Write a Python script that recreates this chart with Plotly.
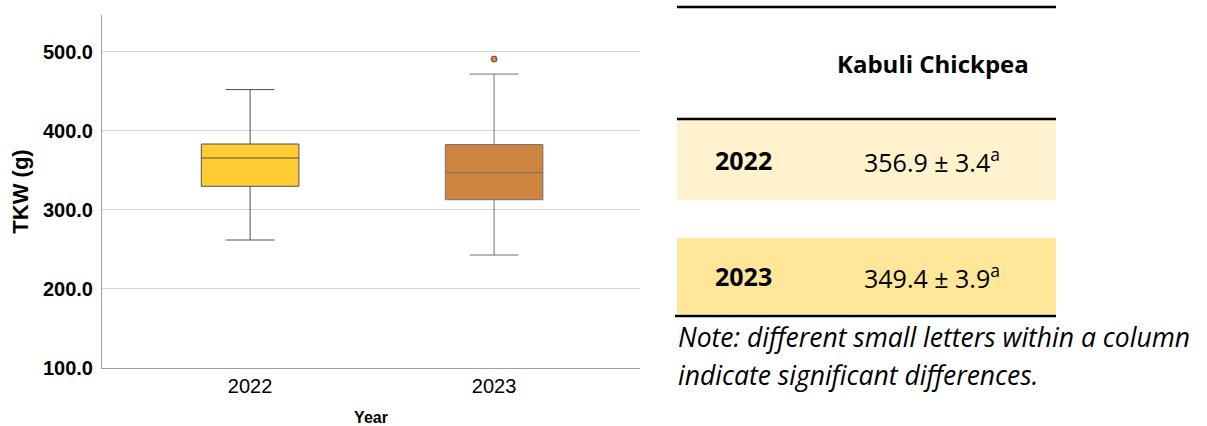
import plotly.graph_objects as go

W, H = 1207, 426

# Box-plot summary statistics of thousand-kernel weight (g) per harvest year
years = ["2022", "2023"]
q1 = [330.0, 313.0]
median = [365.8, 347.3]
q3 = [383.5, 382.8]
lower_whisker = [262.0, 243.0]
upper_whisker = [452.4, 472.0]
outlier_years = ["2023"]
outlier_values = [491.0]

box_fill = ["#FFCC33", "#CD853F"]
box_line = ["#4f4f4f", "#727272"]

# Table: mean ± SE with significance letters
table_title = "Kabuli Chickpea"
table_means = [356.9, 349.4]
table_se = [3.4, 3.9]
table_letters = ["a", "a"]
row_fill = ["#FFF2CC", "#FFE699"]
note_lines = ["Note: different small letters within a column",
              "indicate significant differences."]


def px(x):
    return x / W


def py(y):
    return 1 - y / H


fig = go.Figure()

for i, yr in enumerate(years):
    fig.add_trace(go.Box(
        x=[yr], q1=[q1[i]], median=[median[i]], q3=[q3[i]],
        lowerfence=[lower_whisker[i]], upperfence=[upper_whisker[i]],
        fillcolor=box_fill[i], line=dict(color=box_line[i], width=1),
        width=0.4, whiskerwidth=0.5, boxpoints=False,
        showlegend=False, hoverinfo="skip",
    ))

fig.add_trace(go.Scatter(
    x=outlier_years, y=outlier_values, mode="markers",
    marker=dict(size=6, color="#CD853F", line=dict(color="#6b4a2a", width=1)),
    showlegend=False, hoverinfo="skip",
))

fig.update_layout(
    width=W, height=H, margin=dict(l=0, r=0, t=0, b=0),
    paper_bgcolor="white", plot_bgcolor="white",
    xaxis=dict(
        domain=[px(102), px(640)], range=[-0.607, 1.598], automargin=False,
        type="category", showline=True, linecolor="#a0a0a0", linewidth=1,
        showgrid=False, ticks="", zeroline=False,
        tickfont=dict(family="Liberation Sans", size=20, color="black"),
        title=dict(text="Year", standoff=16,
                   font=dict(family="Liberation Sans", size=16, color="black", weight="bold")),
    ),
    yaxis=dict(
        domain=[py(368), py(15)], range=[100, 546.8], automargin=False,
        tickvals=[100, 200, 300, 400, 500], tickformat=".1f",
        showline=True, linecolor="#a0a0a0", linewidth=1,
        showgrid=True, gridcolor="#d6d6d6", gridwidth=1, zeroline=False,
        ticks="", ticklabelstandoff=4,
        tickfont=dict(family="Liberation Sans", size=20, color="black", weight="bold"),
        title=dict(text="TKW (g)", standoff=8,
                   font=dict(family="Liberation Sans", size=22, color="black", weight="bold")),
    ),
)

# Table background rows and rules
shapes = []
row_tops = [120, 238]
row_bottoms = [200, 314]
for i in range(len(years)):
    shapes.append(dict(type="rect", xref="paper", yref="paper",
                       x0=px(677), x1=px(1056), y0=py(row_bottoms[i]), y1=py(row_tops[i]),
                       fillcolor=row_fill[i], line=dict(width=0), layer="below"))
for y, x0 in [(7, 677), (119, 677), (316, 675)]:
    shapes.append(dict(type="line", xref="paper", yref="paper",
                       x0=px(x0), x1=px(1056), y0=py(y), y1=py(y),
                       line=dict(color="black", width=2.5)))
fig.update_layout(shapes=shapes)

tfont = "Open Sans"
ann = [dict(text=f"<b>{table_title}</b>", x=px(933), y=py(64), xref="paper", yref="paper",
            showarrow=False, xanchor="center", yanchor="middle",
            font=dict(family=tfont, size=24, color="black"))]
row_mid = [160, 276]
for i, yr in enumerate(years):
    ann.append(dict(text=f"<b>{yr}</b>", x=px(743), y=py(row_mid[i]), xref="paper", yref="paper",
                    showarrow=False, xanchor="center", yanchor="middle",
                    font=dict(family=tfont, size=25, color="black")))
    ann.append(dict(text=f"{table_means[i]:.1f} ± {table_se[i]:.1f}<sup>{table_letters[i]}</sup>",
                    x=px(862), y=py(row_mid[i]), xref="paper", yref="paper",
                    showarrow=False, xanchor="left", yanchor="middle",
                    font=dict(family=tfont, size=25, color="black")))
for j, line in enumerate(note_lines):
    ann.append(dict(text=f"<i>{line}</i>", x=px(676), y=py([337, 375][j]), xref="paper", yref="paper",
                    showarrow=False, xanchor="left", yanchor="middle",
                    font=dict(family=tfont, size=26.5, color="black")))
fig.update_layout(annotations=ann)

fig.write_html("out.html")
